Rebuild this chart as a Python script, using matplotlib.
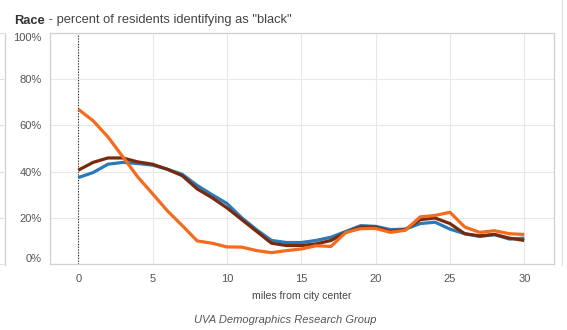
import numpy as np
import matplotlib.pyplot as plt
from matplotlib.lines import Line2D

plt.rcParams['font.family'] = ['Liberation Sans', 'DejaVu Sans']

# percent black by distance from city center (miles)
miles = np.arange(0, 31)
blue = [37.4, 39.6, 43.2, 44.0, 43.5, 42.8, 41.0, 38.8, 34.0, 30.0,
        26.2, 20.0, 14.8, 10.2, 9.3, 9.3, 10.2, 11.6, 14.1, 16.6,
        16.3, 14.9, 15.1, 17.5, 18.1, 15.1, 13.1, 11.9, 12.7, 10.8, 11.2]
brown = [40.6, 44.0, 45.9, 45.9, 44.2, 43.2, 41.0, 38.2, 32.5, 28.7,
         24.3, 19.2, 14.1, 9.0, 8.0, 8.0, 8.7, 10.2, 13.7, 16.0,
         15.9, 14.1, 14.9, 19.2, 19.9, 17.5, 13.1, 12.2, 12.8, 11.2, 10.2]
orange = [67.0, 62.0, 55.0, 46.4, 37.7, 30.4, 23.0, 16.6, 10.0, 9.0,
          7.4, 7.3, 5.8, 4.9, 5.8, 6.5, 7.9, 7.6, 13.7, 15.3,
          15.4, 13.7, 14.6, 20.4, 21.0, 22.4, 16.0, 13.7, 14.4, 13.1, 12.8]

x_ticks = [0, 5, 10, 15, 20, 25, 30]
y_ticks = [0, 20, 40, 60, 80, 100]

W, H = 567, 330
fig = plt.figure(figsize=(W / 100, H / 100), dpi=100)
ax = fig.add_axes([50 / W, 66 / H, 504 / W, 231 / H])

ax.plot(miles, blue, color='#2a7ab9', lw=2.3, solid_capstyle='butt', zorder=3)
ax.plot(miles, brown, color='#7a2a0c', lw=2.3, solid_capstyle='butt', zorder=4)
ax.plot(miles, orange, color='#f36b1c', lw=2.3, solid_capstyle='butt', zorder=5)
ax.axvline(0, color='#222222', lw=0.8, ls=(0, (1, 1.5)), zorder=2)

ax.set_xlim(-1.9, 32)
ax.set_ylim(0, 100)
ax.set_xticks(x_ticks)
ax.set_yticks(y_ticks)
ax.set_yticklabels([f'{v}%' for v in y_ticks])
ax.grid(True, color='#e8e8e8', lw=0.8, zorder=0)
ax.tick_params(length=0, labelsize=8, colors='#555555')
ax.tick_params(axis='x', pad=7)
ax.tick_params(axis='y', pad=6)
labels = ax.get_yticklabels()
labels[0].set_va('bottom')
labels[-1].set_va('top')
for s in ax.spines.values():
    s.set_color('#d0d0d0')
    s.set_linewidth(0.9)

ax.set_xlabel('miles from city center', fontsize=7.6, color='#444444', labelpad=5)

# title: bold lead word followed by the description
t1 = fig.text(14 / W, 1 - 20.5 / H, 'Race', fontsize=9.3, fontweight='bold',
              color='#333333', va='center')
fig.canvas.draw()
x_end = t1.get_window_extent().x1 / (W)
fig.text(x_end, 1 - 20.5 / H, ' - percent of residents identifying as "black"',
         fontsize=9.3, color='#444444', va='center')
fig.text(285 / W, 1 - 320 / H, 'UVA Demographics Research Group', fontsize=8,
         style='italic', color='#555555', ha='center', va='center')

# neighbouring panel edges
fig.add_artist(Line2D([5 / W, 5 / W], [1 - 33 / H, 1 - 265 / H],
                      color='#d0d0d0', lw=0.9, transform=fig.transFigure))
for yv in y_ticks:
    yf = (66 + 231 * yv / 100) / H
    fig.add_artist(Line2D([0, 5 / W], [yf, yf], color='#e0e0e0', lw=0.8,
                          transform=fig.transFigure))
fig.add_artist(Line2D([562 / W, 562 / W], [1, 1 - 265 / H],
                      color='#e0e0e0', lw=0.9, transform=fig.transFigure))

fig.savefig('out.png', dpi=100)
